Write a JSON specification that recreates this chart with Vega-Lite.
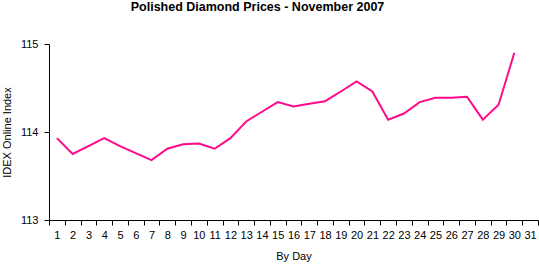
{
  "$schema": "https://vega.github.io/schema/vega-lite/v6.json",
  "autosize": "none",
  "width": 489,
  "height": 176,
  "padding": {"left": 49, "top": 44, "right": 1, "bottom": 47},
  "background": "white",
  "title": {
    "text": "Polished Diamond Prices - November 2007",
    "font": "Liberation Sans",
    "fontSize": 12.5,
    "fontWeight": "bold",
    "color": "black",
    "anchor": "middle",
    "frame": "group",
    "dx": -36,
    "offset": 25
  },
  "config": {
    "view": {"stroke": null},
    "axis": {
      "labelFont": "Liberation Sans",
      "titleFont": "Liberation Sans",
      "labelFontSize": 11,
      "titleFontSize": 11,
      "titleFontWeight": "normal",
      "labelColor": "black",
      "titleColor": "black",
      "domainColor": "black",
      "tickColor": "black",
      "grid": false
    }
  },
  "data": {
    "values": [
      {"day": 1, "index": 113.93},
      {"day": 2, "index": 113.75},
      {"day": 3, "index": 113.84},
      {"day": 4, "index": 113.93},
      {"day": 5, "index": 113.84},
      {"day": 6, "index": 113.76},
      {"day": 7, "index": 113.68},
      {"day": 8, "index": 113.81},
      {"day": 9, "index": 113.86},
      {"day": 10, "index": 113.87},
      {"day": 11, "index": 113.81},
      {"day": 12, "index": 113.93},
      {"day": 13, "index": 114.12},
      {"day": 14, "index": 114.23},
      {"day": 15, "index": 114.34},
      {"day": 16, "index": 114.29},
      {"day": 17, "index": 114.32},
      {"day": 18, "index": 114.35},
      {"day": 19, "index": 114.46},
      {"day": 20, "index": 114.575},
      {"day": 21, "index": 114.46},
      {"day": 22, "index": 114.14},
      {"day": 23, "index": 114.21},
      {"day": 24, "index": 114.34},
      {"day": 25, "index": 114.39},
      {"day": 26, "index": 114.39},
      {"day": 27, "index": 114.40},
      {"day": 28, "index": 114.14},
      {"day": 29, "index": 114.31},
      {"day": 30, "index": 114.90}
    ]
  },
  "mark": {"type": "line", "color": "#FF0A8A", "strokeWidth": 2},
  "encoding": {
    "x": {
      "field": "day",
      "type": "quantitative",
      "scale": {"domain": [0.5, 31.5], "nice": false, "zero": false},
      "axis": {
        "title": "By Day",
        "values": [0.5, 1.5, 2.5, 3.5, 4.5, 5.5, 6.5, 7.5, 8.5, 9.5, 10.5, 11.5, 12.5, 13.5, 14.5, 15.5, 16.5, 17.5, 18.5, 19.5, 20.5, 21.5, 22.5, 23.5, 24.5, 25.5, 26.5, 27.5, 28.5, 29.5, 30.5, 31.5],
        "labelExpr": "datum.value > 31 ? '' : format(datum.value + 0.5, 'd')",
        "labelOffset": 7.9,
        "labelOverlap": false,
        "labelFlush": false,
        "labelBound": false,
        "tickSize": 5,
        "labelPadding": 4,
        "titlePadding": 10
      }
    },
    "y": {
      "field": "index",
      "type": "quantitative",
      "scale": {"domain": [113, 115], "nice": false, "zero": false},
      "axis": {
        "title": "IDEX Online Index",
        "values": [113, 114, 115],
        "labelExpr": "format(datum.value, 'd')",
        "labelOverlap": false,
        "labelFlush": false,
        "tickSize": 5,
        "labelPadding": 6,
        "titlePadding": 8
      }
    }
  }
}
